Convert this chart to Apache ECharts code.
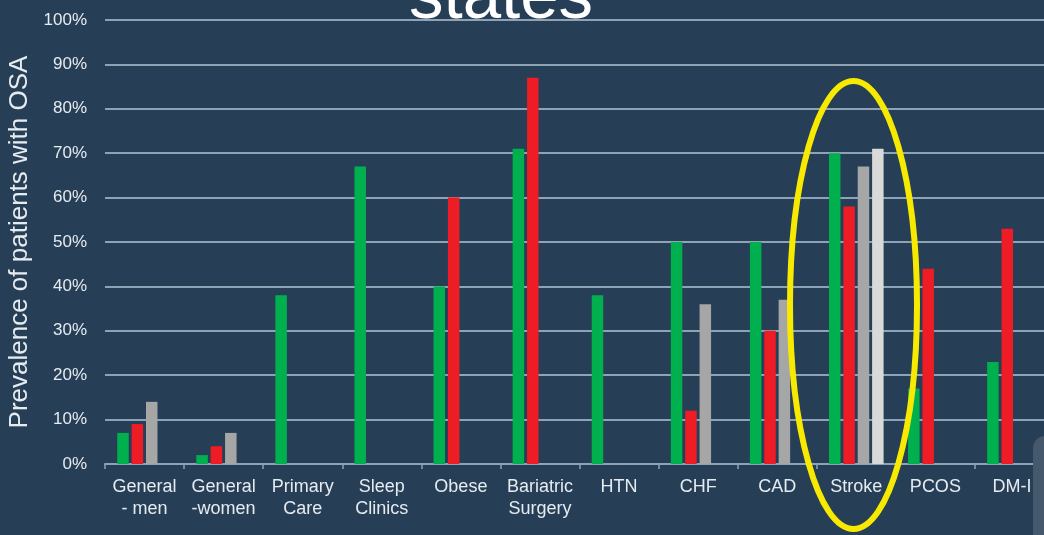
<!DOCTYPE html>
<html>
<head>
<meta charset="utf-8">
<script src="https://cdn.jsdelivr.net/npm/echarts@6/dist/echarts.min.js"></script>
<style>
  html, body { margin: 0; padding: 0; background: #263f56; }
  #chart { width: 1044px; height: 535px; }
</style>
</head>
<body>
<div id="chart"></div>
<script>
// Patient groups along the x axis
const categories = ['General\n- men', 'General\n-women', 'Primary\nCare', 'Sleep\nClinics', 'Obese',
  'Bariatric\nSurgery', 'HTN', 'CHF', 'CAD', 'Stroke', 'PCOS', 'DM-II'];

// Prevalence of OSA (%) reported by each study series; null = no bar
const seriesGreen = [7, 2, 38, 67, 40, 71, 38, 50, 50, 70, 17, 23];
const seriesRed = [9, 4, null, null, 60, 87, null, 12, 30, 58, 44, 53];
const seriesGray = [14, 7, null, null, null, null, null, 36, 37, 67, null, null];
const seriesLight = [null, null, null, null, null, null, null, null, null, 71, null, null];

// Y axis ticks
const yTicks = { min: 0, max: 100, interval: 10 };

const lineColor = '#8ea3b6';
const textColor = '#e6ebf0';
const font = '"Liberation Sans", Arial, sans-serif';

const chart = echarts.init(document.getElementById('chart'), null, { renderer: 'canvas' });

function bar(name, data, color) {
  return {
    name, type: 'bar', data,
    barWidth: 11.5, barGap: '25%',
    itemStyle: { color },
    animation: false
  };
}

chart.setOption({
  backgroundColor: '#263f56',
  animation: false,
  // the plot runs slightly past the right edge of the page
  grid: { left: 105, width: 949, top: 20, bottom: 71, containLabel: false, outerBoundsMode: 'none' },
  xAxis: {
    type: 'category',
    data: categories,
    axisLine: { lineStyle: { color: lineColor, width: 2 } },
    axisTick: { show: true, length: 5, lineStyle: { color: lineColor, width: 1.5 } },
    axisLabel: {
      color: textColor, fontFamily: font, fontSize: 18, lineHeight: 22,
      margin: 12, interval: 0
    }
  },
  yAxis: {
    type: 'value',
    min: yTicks.min, max: yTicks.max, interval: yTicks.interval,
    name: 'Prevalence of patients with OSA',
    nameLocation: 'middle',
    nameGap: 72,
    nameRotate: 90,
    nameTextStyle: { color: textColor, fontFamily: font, fontSize: 26 },
    axisLine: { show: false },
    axisTick: { show: false },
    axisLabel: { color: textColor, fontFamily: font, fontSize: 17, margin: 18, formatter: '{value}%' },
    splitLine: { show: true, lineStyle: { color: lineColor, width: 2 } }
  },
  series: [
    bar('A', seriesGreen, '#00b04f'),
    bar('B', seriesRed, '#ee1c25'),
    bar('C', seriesGray, '#a6a6a6'),
    bar('D', seriesLight, '#d9d9d9')
  ],
  graphic: [
    {
      type: 'text', z: 100,
      x: 501, y: -1,
      style: {
        text: 'states', fill: '#ffffff', font: '69px "Liberation Sans", Arial, sans-serif',
        textAlign: 'center', textVerticalAlign: 'middle'
      }
    },
    {
      type: 'ellipse', z: 100,
      shape: { cx: 853.5, cy: 305, rx: 63.5, ry: 224 },
      style: { fill: null, stroke: '#f7ea00', lineWidth: 6 }
    },
    {
      type: 'rect', z: 100,
      shape: { x: 1033, y: 436, width: 30, height: 120, r: 12 },
      style: { fill: '#46586b' }
    }
  ]
});
</script>
</body>
</html>
